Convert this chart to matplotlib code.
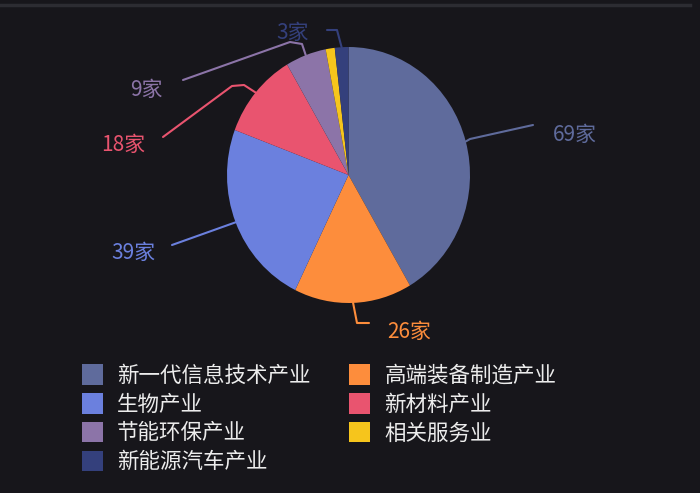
import numpy as np
import matplotlib.pyplot as plt
from matplotlib.patches import Patch

plt.rcParams['font.family'] = ['Noto Sans CJK SC', 'DejaVu Sans']

# data
categories = ['新一代信息技术产业', '高端装备制造产业', '生物产业', '新材料产业',
              '节能环保产业', '相关服务业', '新能源汽车产业']
counts = [69, 26, 39, 18, 9, 2, 3]
colors = ['#5f6b9c', '#fd8d3c', '#6b80de', '#e9546f', '#8c74a8', '#f6c51c', '#34407c']

# config
bg = '#17161b'
W, H = 700, 493
cx, cy, rx, ry = 348.5, 175, 121.5, 128  # pie centre / radii in pixels

# leader line bends and label anchors (pixels), None = no label
label_layout = [
    dict(path=[(470, 139), (533, 125)], text=(553, 135), ha='left'),
    dict(path=[(357, 323), (369, 323)], text=(387, 332), ha='left'),
    dict(path=[(172, 245)], text=(155, 253), ha='right'),
    dict(path=[(244, 85), (232, 86), (163, 137)], text=(145, 145), ha='right'),
    dict(path=[(302, 44), (290, 42), (183, 80)], text=(163, 90), ha='right'),
    None,
    dict(path=[(337, 30), (327, 30)], text=(309, 33), ha='right'),
]


def to_data(px, py):
    return (px - cx) / rx, (cy - py) / ry


fig = plt.figure(figsize=(W / 100, H / 100), dpi=100, facecolor=bg)
ax = fig.add_axes([0, 0, 1, 1])
ax.set_facecolor(bg)

wedges, _ = ax.pie(counts, colors=colors, startangle=90, counterclock=False,
                   wedgeprops=dict(linewidth=0))
ax.set_aspect('auto')
ax.set_xlim(-cx / rx, (W - cx) / rx)
ax.set_ylim((cy - H) / ry, cy / ry)
ax.axis('off')

# leader lines + value labels
for w, n, c, lay in zip(wedges, counts, colors, label_layout):
    if lay is None:
        continue
    a = np.deg2rad((w.theta1 + w.theta2) / 2)
    pts = [(np.cos(a), np.sin(a))] + [to_data(*p) for p in lay['path']]
    xs, ys = zip(*pts)
    ax.plot(xs, ys, color=c, lw=1.5, solid_capstyle='round')
    tx, ty = to_data(*lay['text'])
    ax.text(tx, ty, f'{n}家', color=c, fontsize=15, ha=lay['ha'], va='center')

# legend, filled row by row like the original
order = [0, 2, 4, 6, 1, 3, 5]
handles = [Patch(facecolor=colors[i], edgecolor='none', label=categories[i]) for i in order]
fig.legend(handles=handles, loc='upper left', bbox_to_anchor=(82 / W, 1 - 364 / H),
           ncol=2, frameon=False, fontsize=15.5, labelcolor='#ececec',
           handlelength=0.98, handleheight=1.1, handletextpad=0.65,
           columnspacing=1.8, labelspacing=0.29, borderpad=0, borderaxespad=0)

# thin rule at the very top
fig.add_artist(plt.Line2D([0, 0.985], [1 - 5 / H] * 2, transform=fig.transFigure,
                          color='#2c2c32', lw=2.5))

fig.savefig('out.png', dpi=100, facecolor=bg)
